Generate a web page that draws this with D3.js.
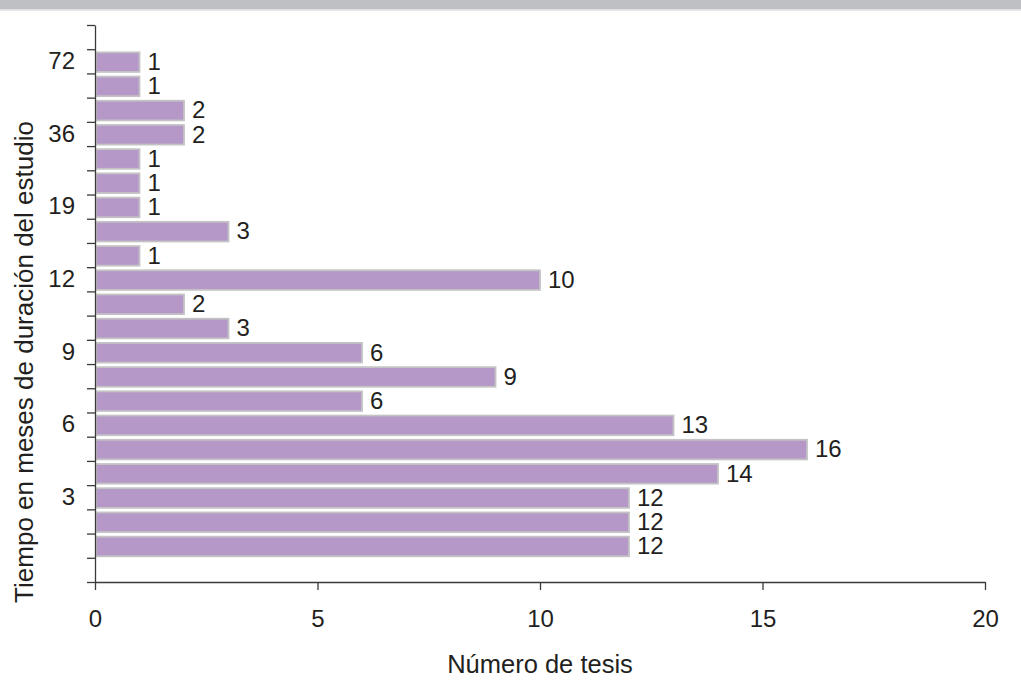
<!DOCTYPE html>
<html>
<head>
<meta charset="utf-8">
<script src="https://cdn.jsdelivr.net/npm/d3@7"></script>
<style>
  html, body { margin: 0; padding: 0; background: #fff; }
  svg { display: block; font-family: "Liberation Sans", Arial, Helvetica, sans-serif; }
</style>
</head>
<body>
<svg id="chart" width="1021" height="695"></svg>
<script>
// Data (top to bottom)
const tickLabels = ["72","","","36","","","19","","","12","","","9","","","6","","","3","",""];
const values = [1,1,2,2,1,1,1,3,1,10,2,3,6,9,6,13,16,14,12,12,12];
const xTicks = [0,5,10,15,20];
const xTitle = "Número de tesis";
const yTitle = "Tiempo en meses de duración del estudio";

(function () {
const svg = d3.select("#chart");
const W = 1021, H = 695;

// top banner
svg.append("rect").attr("x",0).attr("y",0).attr("width",W).attr("height",9.5).attr("fill","#bfc0c4");
svg.append("rect").attr("x",0).attr("y",9.5).attr("width",W).attr("height",1.2).attr("fill","#dedfe1");

const mLeft = 95, mRight = 985, mTop = 25, mBottom = 582;

const x = d3.scaleLinear().domain([0, 20]).range([mLeft, mRight]);
// slots: one empty slot above and below the bars
const slots = d3.range(-1, values.length + 1);
const y = d3.scaleBand().domain(slots).range([mTop, mBottom]).padding(0);
const yTicksScale = d3.scaleLinear().domain([0, slots.length]).range([mTop, mBottom]);

// bars
const bars = values.map((v, i) => ({i, v}));
svg.append("g").selectAll("rect").data(bars).join("rect")
  .attr("x", x(0) + 1)
  .attr("y", d => y(d.i) + 3.1)
  .attr("width", d => x(d.v) - x(0) - 1)
  .attr("height", y.bandwidth() - 4.6)
  .attr("fill", "#b598c7")
  .attr("stroke", "#c3c3c5")
  .attr("stroke-width", 1.8);

// value labels
svg.append("g").selectAll("text").data(bars).join("text")
  .attr("x", d => x(d.v) + 8)
  .attr("y", d => y(d.i) + y.bandwidth() / 2)
  .attr("dy", "0.36em")
  .attr("font-size", 24)
  .attr("fill", "#231f20")
  .text(d => d.v);

// y axis tick marks (at slot boundaries)
const yAxisG = svg.append("g").attr("transform", `translate(${mLeft},0)`)
  .call(d3.axisLeft(yTicksScale).tickValues(d3.range(0, slots.length + 1)).tickFormat("").tickSize(8).tickSizeOuter(0));
// y labels (at slot centres)
const yLabG = svg.append("g").attr("transform", `translate(${mLeft},0)`)
  .call(d3.axisLeft(y).tickValues(values.map((v,i)=>i)).tickSize(0).tickPadding(20).tickFormat(i => tickLabels[i]));
yLabG.select(".domain").remove();

// x axis
const xAxisG = svg.append("g").attr("transform", `translate(0,${mBottom})`)
  .call(d3.axisBottom(x).tickValues(xTicks).tickSize(8).tickSizeOuter(0).tickPadding(20));

[yAxisG, yLabG, xAxisG].forEach(g => {
  g.selectAll(".domain").attr("stroke", "#3a3a3a").attr("stroke-width", 1.3);
  g.selectAll(".tick line").attr("stroke", "#3a3a3a").attr("stroke-width", 1.3);
  g.selectAll("text").attr("font-size", 24).attr("fill", "#231f20")
    .attr("font-family", '"Liberation Sans", Arial, sans-serif');
});

// titles
svg.append("text")
  .attr("x", (mLeft + mRight) / 2).attr("y", 673)
  .attr("text-anchor", "middle").attr("font-size", 25.5).attr("fill", "#231f20")
  .text(xTitle);
svg.append("text")
  .attr("transform", `translate(33,${362}) rotate(-90)`)
  .attr("text-anchor", "middle").attr("font-size", 26).attr("fill", "#231f20")
  .text(yTitle);
})();
</script>
</body>
</html>
